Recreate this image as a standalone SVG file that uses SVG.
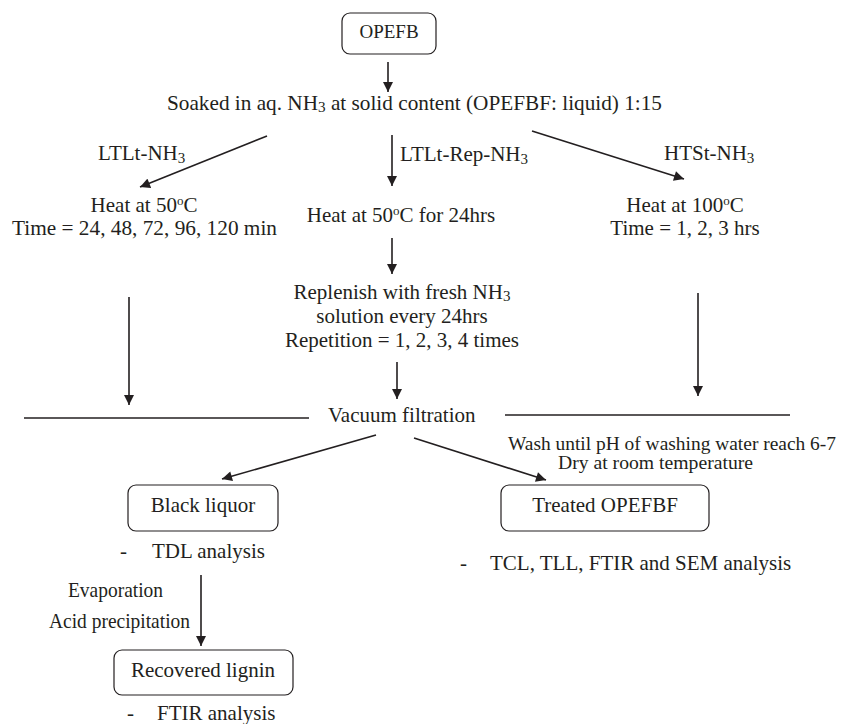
<svg xmlns="http://www.w3.org/2000/svg" width="843" height="724" viewBox="0 0 843 724">
<defs>
<style>
text{font-family:"Liberation Serif","Times New Roman",serif;font-size:21px;fill:#231f20}
.box{fill:#fff;stroke:#231f20;stroke-width:1.2}
.ln{stroke:#231f20;stroke-width:1.6;fill:none}
.ar{stroke:#231f20;stroke-width:1.6;fill:none;marker-end:url(#ah)}
.c{text-anchor:middle}
.sm{font-size:19px}
</style>
<marker id="ah" viewBox="0 0 10 10" refX="10" refY="5" markerWidth="11" markerHeight="10" markerUnits="userSpaceOnUse" orient="auto">
<path d="M0,0 L10,5 L0,10 z" fill="#231f20"/>
</marker>
</defs>
<rect width="843" height="724" fill="#fff"/>

<g id="connectors">
<line class="ar" x1="388" y1="62" x2="388" y2="92"/>
<line class="ar" x1="267" y1="136" x2="140" y2="187"/>
<line class="ar" x1="392" y1="135" x2="392" y2="186"/>
<line class="ar" x1="532" y1="131" x2="684" y2="179"/>
<line class="ar" x1="392" y1="238" x2="392" y2="274"/>
<line class="ar" x1="397" y1="362" x2="397" y2="399"/>
<line class="ar" x1="129" y1="297" x2="129" y2="405"/>
<line class="ar" x1="698" y1="293" x2="698" y2="396"/>
<line class="ln" x1="24" y1="418" x2="309" y2="418"/>
<line class="ln" x1="505" y1="415" x2="790" y2="415"/>
<line class="ar" x1="376" y1="435" x2="222" y2="479"/>
<line class="ar" x1="414" y1="438" x2="546" y2="480"/>
<line class="ar" x1="201" y1="575" x2="201" y2="646"/>
</g>

<g id="opefb">
<rect class="box" x="342" y="13" width="94" height="41" rx="8"/>
<text x="389" y="38" class="c" style="font-size:19px">OPEFB</text>
</g>

<g id="soak">
<text x="167" y="110" textLength="495" lengthAdjust="spacingAndGlyphs">Soaked in aq. NH<tspan font-size="15" dy="2">3</tspan><tspan dy="-2"> at solid content (OPEFBF: liquid) 1:15</tspan></text>
</g>

<g id="labels-branch">
<text x="98" y="160">LTLt-NH<tspan font-size="15" dy="3">3</tspan></text>
<text x="400" y="161">LTLt-Rep-NH<tspan font-size="15" dy="3">3</tspan></text>
<text x="664" y="160">HTSt-NH<tspan font-size="15" dy="3">3</tspan></text>
</g>

<g id="heat-left">
<text x="144" y="212" class="c">Heat at 50<tspan font-size="13" dy="-7">o</tspan><tspan dy="7">C</tspan></text>
<text x="12" y="235" textLength="265" lengthAdjust="spacingAndGlyphs">Time = 24, 48, 72, 96, 120 min</text>
</g>

<g id="heat-mid">
<text x="401" y="222" class="c">Heat at 50<tspan font-size="13" dy="-7">o</tspan><tspan dy="7">C for 24hrs</tspan></text>
</g>

<g id="heat-right">
<text x="685" y="212" class="c">Heat at 100<tspan font-size="13" dy="-7">o</tspan><tspan dy="7">C</tspan></text>
<text x="685" y="235" class="c">Time = 1, 2, 3 hrs</text>
</g>

<g id="replenish">
<text x="402" y="299" class="c">Replenish with fresh NH<tspan font-size="15" dy="2">3</tspan></text>
<text x="402" y="323" class="c">solution every 24hrs</text>
<text x="402" y="347" class="c">Repetition = 1, 2, 3, 4 times</text>
</g>

<g id="vacuum">
<text x="328" y="422">Vacuum filtration</text>
</g>

<g id="wash">
<text x="508" y="450" class="sm" textLength="328" lengthAdjust="spacingAndGlyphs">Wash until pH of washing water reach 6-7</text>
<text x="558" y="469" class="sm" textLength="195" lengthAdjust="spacingAndGlyphs">Dry at room temperature</text>
</g>

<g id="black-liquor">
<rect class="box" x="128" y="485" width="150" height="46" rx="8"/>
<text x="203" y="512" class="c">Black liquor</text>
<text x="120" y="558">-</text>
<text x="152" y="558">TDL analysis</text>
</g>

<g id="treated">
<rect class="box" x="501" y="485" width="208" height="46" rx="8"/>
<text x="605" y="512" class="c">Treated OPEFBF</text>
<text x="460" y="570">-</text>
<text x="490" y="570">TCL, TLL, FTIR and SEM analysis</text>
</g>

<g id="evap">
<text x="68" y="597" textLength="95" lengthAdjust="spacingAndGlyphs">Evaporation</text>
<text x="49" y="628" textLength="141" lengthAdjust="spacingAndGlyphs">Acid precipitation</text>
</g>

<g id="lignin">
<rect class="box" x="114" y="650" width="179" height="45" rx="8"/>
<text x="203" y="677" class="c">Recovered lignin</text>
<text x="127" y="720">-</text>
<text x="157" y="720">FTIR analysis</text>
</g>
</svg>
